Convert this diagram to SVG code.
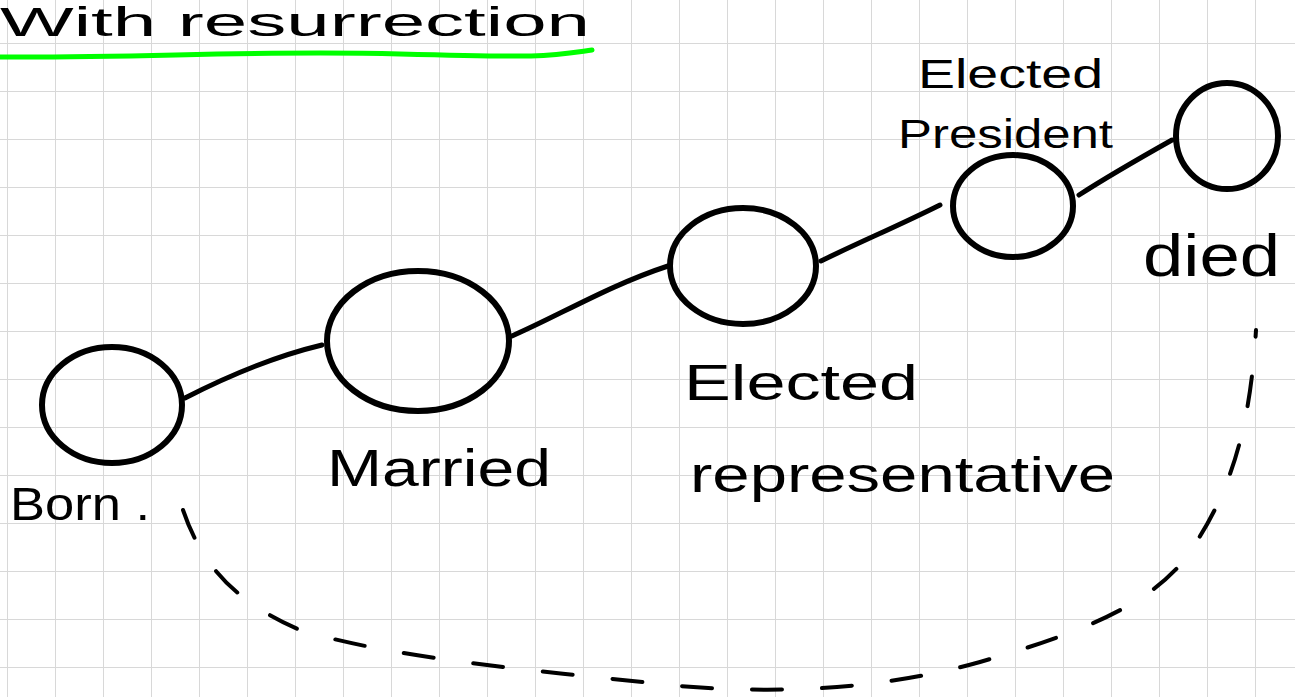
<svg xmlns="http://www.w3.org/2000/svg" width="1295" height="697" viewBox="0 0 1295 697">
<defs>
<pattern id="grid" x="7" y="43" width="48" height="48" patternUnits="userSpaceOnUse">
<path d="M0 0H48M0 0V48" fill="none" stroke="#d8d8d8" stroke-width="2"/>
</pattern>
<style>
.node{fill:none;stroke:#000;stroke-width:6;stroke-linecap:round}
.edge{fill:none;stroke:#000;stroke-width:5;stroke-linecap:round}
.dash{fill:none;stroke:#000;stroke-width:4;stroke-dasharray:30 40;stroke-linecap:round}
.lbl{font-family:"Liberation Sans",Arial,sans-serif;fill:#000}
</style>
</defs>
<rect width="1295" height="697" fill="#fff"/>
<rect width="1295" height="697" fill="url(#grid)"/>
<g id="title">
<text class="lbl" x="0" y="36" font-size="40" textLength="590" lengthAdjust="spacingAndGlyphs">With  resurrection</text>
<path d="M0 57 C150 58 250 50 400 54 S550 56 592 50" fill="none" stroke="#0f0" stroke-width="5" stroke-linecap="round"/>
</g>
<g id="connectors">
<path class="edge" d="M185 398 C230 375 280 355 322 345"/>
<path class="edge" d="M512 336 C560 315 610 285 668 266"/>
<path class="edge" d="M821 261 C860 242 900 225 940 205"/>
<path class="edge" d="M1079 195 C1110 175 1140 158 1172 140"/>
<path class="dash" d="M183 510 C200 560 230 600 300 630 C400 660 550 672 680 686 C780 694 880 690 980 662 C1070 636 1140 610 1180 565 C1230 500 1250 430 1256 330"/>
</g>
<g id="born">
<ellipse class="node" cx="112" cy="405" rx="70" ry="58"/>
<text class="lbl" x="10" y="520" font-size="46" textLength="140" lengthAdjust="spacingAndGlyphs">Born .</text>
</g>
<g id="married">
<ellipse class="node" cx="418" cy="341" rx="91" ry="70"/>
<text class="lbl" x="327" y="486" font-size="52" textLength="224" lengthAdjust="spacingAndGlyphs">Married</text>
</g>
<g id="representative">
<ellipse class="node" cx="743" cy="266" rx="73" ry="58"/>
<text class="lbl" x="684" y="400" font-size="50" textLength="234" lengthAdjust="spacingAndGlyphs">Elected</text>
<text class="lbl" x="690" y="492" font-size="50" textLength="425" lengthAdjust="spacingAndGlyphs">representative</text>
</g>
<g id="president">
<ellipse class="node" cx="1013" cy="206" rx="60" ry="51"/>
<text class="lbl" x="918" y="88" font-size="40" textLength="185" lengthAdjust="spacingAndGlyphs">Elected</text>
<text class="lbl" x="898" y="148" font-size="40" textLength="215" lengthAdjust="spacingAndGlyphs">President</text>
</g>
<g id="died">
<ellipse class="node" cx="1227" cy="136" rx="51" ry="53"/>
<text class="lbl" x="1143" y="276" font-size="60" textLength="137" lengthAdjust="spacingAndGlyphs">died</text>
</g>
</svg>
